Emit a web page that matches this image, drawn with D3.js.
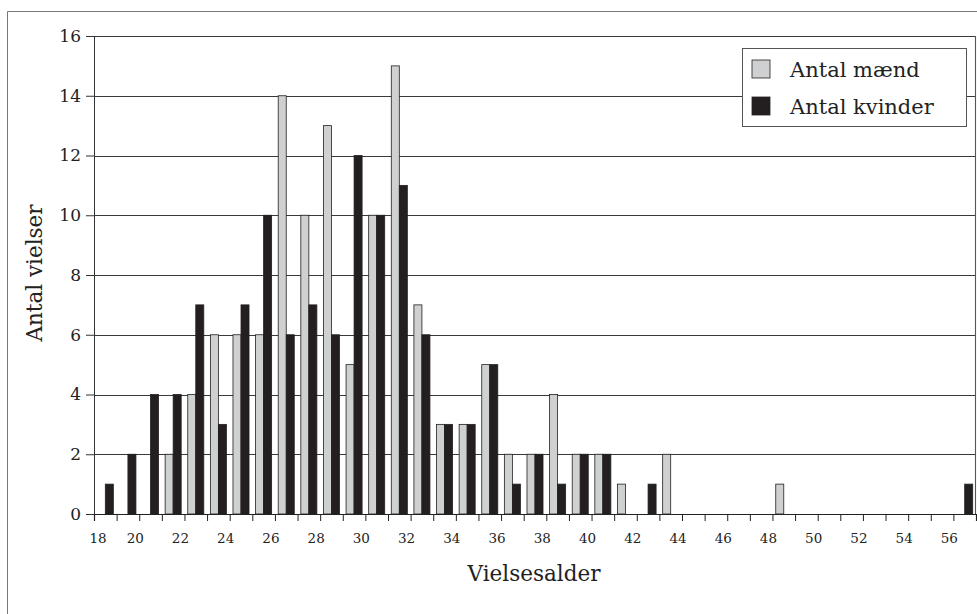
<!DOCTYPE html>
<html>
<head>
<meta charset="utf-8">
<script src="https://cdn.jsdelivr.net/npm/d3@7"></script>
<style>
  body { margin: 0; background: #fff; }
  svg { display: block; }
</style>
</head>
<body>
<div id="chart"></div>
<script>
// Vielsesalder (age at marriage), 18 .. 56
const ages = d3.range(18, 57);
const antalMaend   = [0,0,0,2,4,6,6,6,14,10,13,5,10,15,7,3,3,5,2,2,4,2,2,1,0,2,0,0,0,0,1,0,0,0,0,0,0,0,0];
const antalKvinder = [1,2,4,4,7,3,7,10,6,7,6,12,10,11,6,3,3,5,1,2,1,2,2,0,1,0,0,0,0,0,0,0,0,0,0,0,0,0,1];
const yTicks = [0, 2, 4, 6, 8, 10, 12, 14, 16];
const xLabels = d3.range(18, 57, 2);
const seriesNames = ['Antal mænd', 'Antal kvinder'];
const seriesColors = ['#cfd0d2', '#231f20'];

const width = 977, height = 614;
const margin = { top: 36, right: 1, bottom: 100, left: 94 };
const innerWidth = width - margin.left - margin.right;
const innerHeight = height - margin.top - margin.bottom;
const font = '"DejaVu Serif", "Liberation Serif", serif';

const svg = d3.select('#chart').append('svg')
  .attr('width', width)
  .attr('height', height)
  .attr('font-family', font);

// outer frame: only its top and left sides are inside the picture
svg.append('path')
  .attr('d', `M7.5,${height} V11.5 H${width}`)
  .attr('fill', 'none').attr('stroke', '#777').attr('stroke-width', 1);

const g = svg.append('g')
  .attr('transform', `translate(${margin.left}, ${margin.top})`);

const xScale = d3.scaleBand()
  .domain(ages)
  .range([0, innerWidth])
  .padding(0);

const xSub = d3.scaleBand()
  .domain([0, 1])
  .range([0, xScale.bandwidth()])
  .paddingOuter(0.41);

const yScale = d3.scaleLinear()
  .domain([0, 16])
  .range([innerHeight, 0]);

// gridlines
g.append('g').selectAll('line').data(yTicks.filter(d => d > 0))
  .enter().append('line')
  .attr('x1', 0).attr('x2', innerWidth)
  .attr('y1', d => Math.round(yScale(d)) + 0.5)
  .attr('y2', d => Math.round(yScale(d)) + 0.5)
  .attr('stroke', '#3a3a3a').attr('stroke-width', 1.1);

// right edge of the plot area
g.append('line')
  .attr('x1', innerWidth - 0.5).attr('x2', innerWidth - 0.5)
  .attr('y1', yScale(16)).attr('y2', yScale(0))
  .attr('stroke', '#555').attr('stroke-width', 1.1);

// bars
const rows = ages.map((a, i) => ({ age: a, vals: [antalMaend[i], antalKvinder[i]] }));
const groups = g.append('g').selectAll('g').data(rows)
  .enter().append('g')
  .attr('transform', d => `translate(${xScale(d.age)}, 0)`);

groups.selectAll('rect')
  .data(d => d.vals.map((v, k) => ({ v, k })).filter(e => e.v > 0))
  .enter().append('rect')
  .attr('x', d => xSub(d.k))
  .attr('y', d => yScale(d.v))
  .attr('width', xSub.bandwidth())
  .attr('height', d => innerHeight - yScale(d.v))
  .attr('fill', d => seriesColors[d.k])
  .attr('stroke', '#231f20')
  .attr('stroke-width', 0.8);

// y axis
const yAxis = d3.axisLeft(yScale).tickValues(yTicks).tickSize(8).tickPadding(5);
g.append('g')
  .call(yAxis)
  .attr('font-family', font)
  .attr('font-size', 17)
  .call(s => s.select('.domain').attr('stroke', '#333'))
  .call(s => s.selectAll('.tick line').attr('stroke', '#333'))
  .call(s => s.selectAll('text').attr('fill', '#222'));

// x axis (ticks at category boundaries, labels at left edge)
const xLin = d3.scaleLinear().domain([18, 57]).range([0, innerWidth]);
const xAxis = d3.axisBottom(xLin).tickValues(d3.range(18, 57)).tickSize(7).tickFormat('');
g.append('g')
  .attr('transform', `translate(0, ${innerHeight})`)
  .call(xAxis)
  .call(s => s.select('.domain').attr('stroke', '#222').attr('stroke-width', 1.2))
  .call(s => s.selectAll('.tick line').attr('stroke', '#222'));

g.append('g').selectAll('text').data(xLabels)
  .enter().append('text')
  .attr('x', d => d === 18 ? xLin(d) + 4 : xLin(d) - 4)
  .attr('y', 543 - margin.top)
  .attr('text-anchor', 'middle')
  .attr('font-size', 13.5)
  .attr('fill', '#222')
  .text(d => d);

// axis titles
svg.append('text')
  .attr('x', 534).attr('y', 581)
  .attr('text-anchor', 'middle')
  .attr('font-size', 21.5)
  .attr('fill', '#222')
  .text('Vielsesalder');

svg.append('text')
  .attr('transform', 'translate(42, 273) rotate(-90)')
  .attr('text-anchor', 'middle')
  .attr('font-size', 21.5)
  .attr('fill', '#222')
  .text('Antal vielser');

// legend
const legend = svg.append('g').attr('transform', 'translate(742, 48)');
legend.append('rect')
  .attr('x', 0.5).attr('y', 0.5)
  .attr('width', 224).attr('height', 78)
  .attr('fill', '#fff').attr('stroke', '#555');

const items = legend.selectAll('g.item').data(seriesNames)
  .enter().append('g')
  .attr('class', 'item')
  .attr('transform', (d, i) => `translate(10, ${12 + i * 37})`);

items.append('rect')
  .attr('width', 18).attr('height', 18)
  .attr('fill', (d, i) => seriesColors[i])
  .attr('stroke', '#231f20').attr('stroke-width', 0.8);

items.append('text')
  .attr('x', 38).attr('y', 17)
  .attr('font-size', 21)
  .attr('fill', '#222')
  .text(d => d);
</script>
</body>
</html>
